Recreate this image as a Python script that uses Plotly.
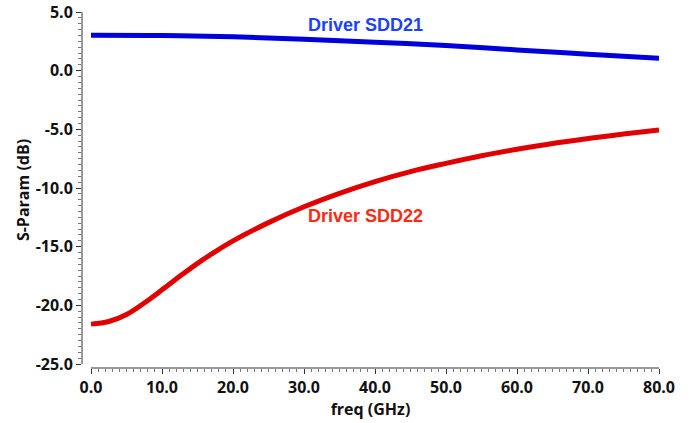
import plotly.graph_objects as go

# Frequency grid (GHz) and differential S-parameters (dB)
freq_sdd21 = [0, 10, 20, 30, 40, 50, 60, 70, 80]
sdd21_db = [3.02, 3.00, 2.89, 2.68, 2.43, 2.15, 1.77, 1.40, 1.06]

freq_sdd22 = [0, 2.5, 5, 7.5, 10, 12.5, 15, 17.5, 20, 25, 30, 35, 40, 45, 50, 55, 60, 65, 70, 75, 80]
sdd22_db = [-21.6, -21.38, -20.78, -19.8, -18.68, -17.53, -16.42, -15.42, -14.5, -12.95,
            -11.6, -10.45, -9.45, -8.6, -7.9, -7.25, -6.7, -6.2, -5.78, -5.4, -5.05]

x_ticks = [0, 10, 20, 30, 40, 50, 60, 70, 80]
y_ticks = [5, 0, -5, -10, -15, -20, -25]

fig = go.Figure()
fig.add_trace(go.Scatter(x=freq_sdd21, y=sdd21_db, mode="lines", line_shape="spline",
                         line=dict(color="#0000dc", width=5), name="Driver SDD21"))
fig.add_trace(go.Scatter(x=freq_sdd22, y=sdd22_db, mode="lines", line_shape="spline",
                         line=dict(color="#e00000", width=5), name="Driver SDD22"))

tick_font = dict(family="Open Sans", size=16, color="#111111", weight="bold")
title_font = dict(family="Open Sans", size=16, color="#111111", weight="bold")

fig.update_layout(
    width=693, height=423,
    margin=dict(l=82, r=34, t=12, b=55),
    plot_bgcolor="white", paper_bgcolor="white",
    showlegend=False,
    xaxis=dict(
        range=[-1.27, 80], showgrid=False, zeroline=False, showline=False,
        automargin=False,
        tickmode="array", tickvals=x_ticks, ticktext=[f"{v:.1f}" for v in x_ticks],
        ticks="outside", ticklen=5, tickcolor="#333333", tickwidth=1,
        minor=dict(tickmode="array", tickvals=[v for v in range(1, 80) if v % 10],
                   ticks="outside", ticklen=3, tickcolor="#777777", tickwidth=1),
        tickfont=tick_font,
        title=dict(text="freq (GHz)", font=title_font, standoff=6),
    ),
    yaxis=dict(
        range=[-25.34, 5], showgrid=False, zeroline=False, showline=False,
        automargin=False,
        tickmode="array", tickvals=y_ticks, ticktext=[f"{v:.1f}" for v in y_ticks],
        ticks="outside", ticklen=5, tickcolor="#333333", tickwidth=1,
        minor=dict(tickmode="linear", tick0=0, dtick=0.5,
                   ticks="outside", ticklen=3, tickcolor="#777777", tickwidth=1),
        tickfont=tick_font,
        title=dict(text="S-Param (dB)", font=title_font, standoff=2),
    ),
)

# Axis lines spanning only the labelled ranges
fig.add_shape(type="line", xref="paper", yref="y", x0=0, x1=0, y0=-25, y1=5,
              line=dict(color="#333333", width=1))
fig.add_shape(type="line", xref="x", yref="paper", x0=0, x1=80, y0=0, y1=0,
              line=dict(color="#333333", width=1))

label_font = dict(family="Liberation Sans", size=18, weight="bold")
fig.add_annotation(x=38.6, y=3.9, text="Driver SDD21", showarrow=False,
                   font=dict(label_font, color="#2040ff"))
fig.add_annotation(x=38.6, y=-12.38, text="Driver SDD22", showarrow=False,
                   font=dict(label_font, color="#ff2a14"))

fig.write_html("out.html")
